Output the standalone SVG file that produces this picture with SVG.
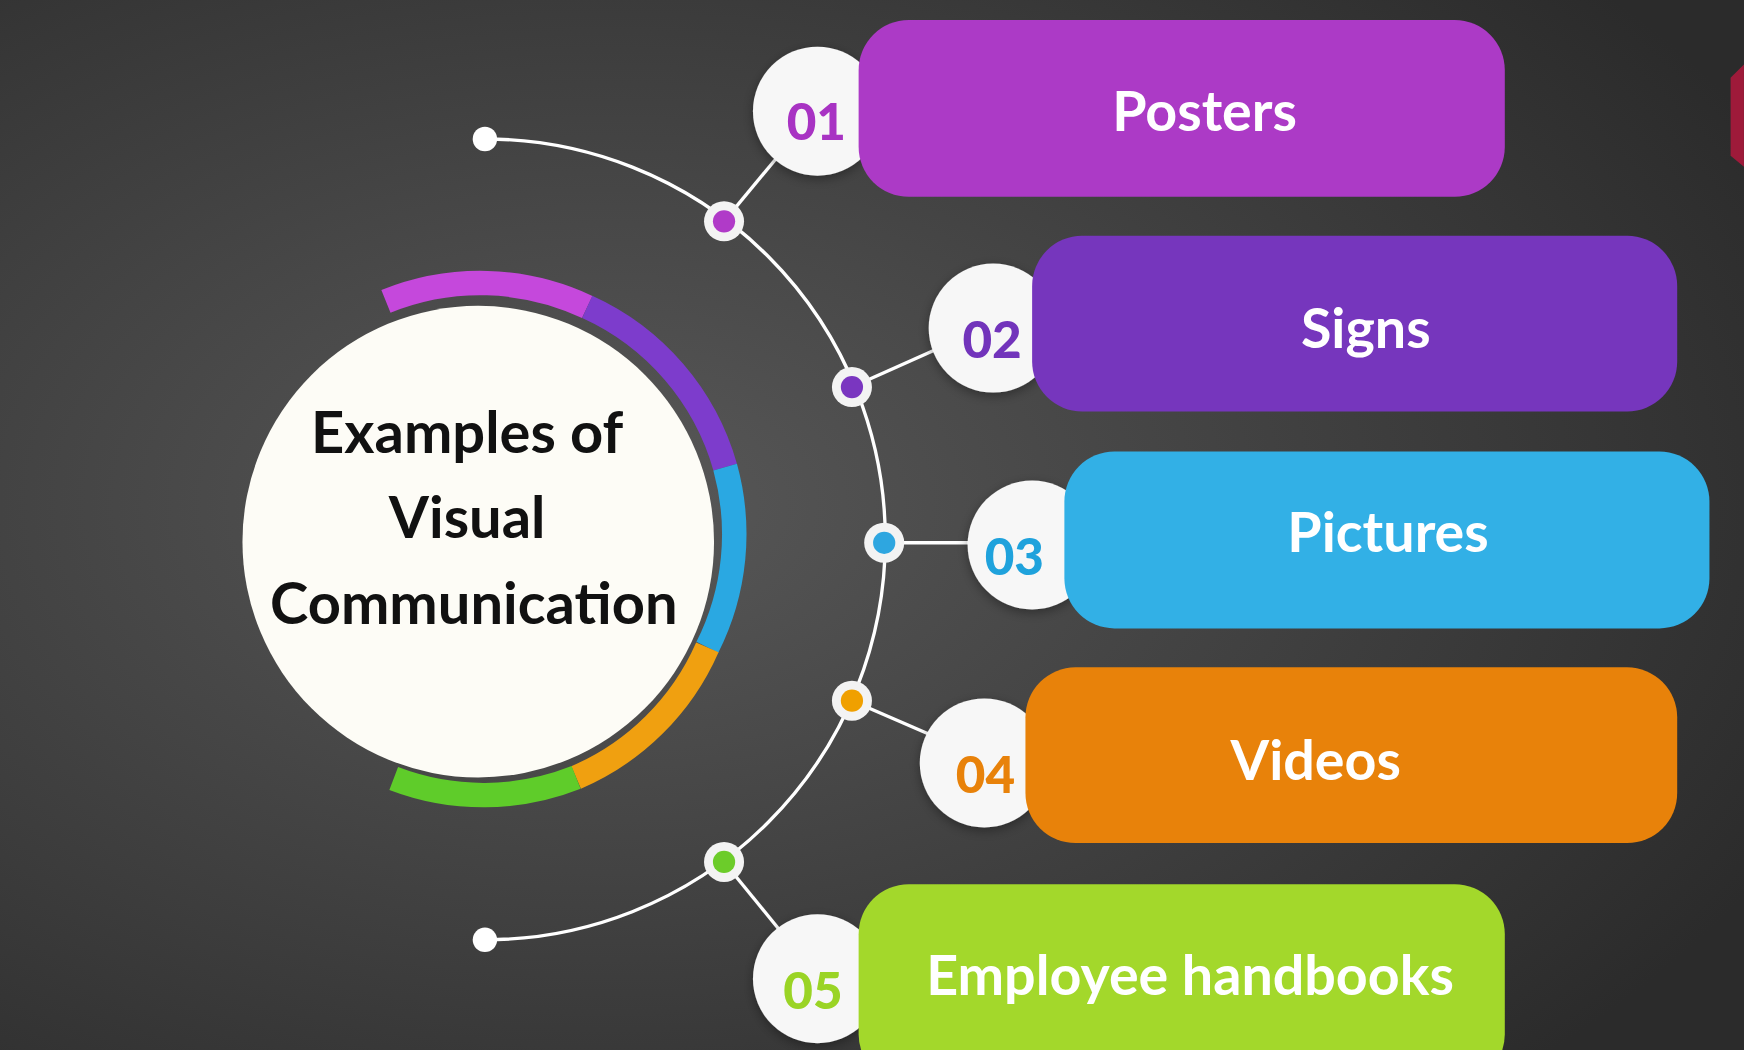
<svg xmlns="http://www.w3.org/2000/svg" width="1744" height="1050" viewBox="0 0 1744 1050">
<defs>
<radialGradient id="bg" cx="0.35" cy="0.48" r="0.75">
<stop offset="0" stop-color="#585858"/><stop offset="1" stop-color="#2b2b2b"/>
</radialGradient>
<filter id="sh" x="-20%" y="-20%" width="140%" height="140%"><feDropShadow dx="0" dy="3" stdDeviation="5" flood-color="#000" flood-opacity="0.35"/></filter>
</defs>
<style>
.lbl{font-family:Lato,"Open Sans",sans-serif;font-weight:bold;font-size:50px;fill:#fff;text-anchor:middle}
.num{font-family:Lato,"Open Sans",sans-serif;font-weight:900;font-size:46px;text-anchor:middle}
.ttl{font-family:Lato,"Open Sans",sans-serif;font-weight:bold;font-size:52px;fill:#111;text-anchor:middle}
.ln{stroke:#fff;stroke-width:3;fill:none}
.nc{fill:#f7f7f7;filter:url(#sh)}
.ring{fill:none;stroke-width:22}
</style>
<rect width="1744" height="1050" fill="url(#bg)"/>
<g transform="scale(1.1122)">
<polygon points="1568,58 1556,70 1556,140 1568,150" fill="#9e1a3a"/>
<g id="connectors">
<path class="ln" d="M436,125 A360,360 0 0 1 436,845"/>
<line class="ln" x1="651" y1="199" x2="700" y2="140"/>
<line class="ln" x1="766" y1="348" x2="840" y2="315"/>
<line class="ln" x1="795" y1="488" x2="875" y2="488"/>
<line class="ln" x1="766" y1="630" x2="835" y2="660"/>
<line class="ln" x1="651" y1="775" x2="700" y2="835"/>
<circle cx="436" cy="125" r="11" fill="#fff"/>
<circle cx="436" cy="845" r="11" fill="#fff"/>
<circle cx="651" cy="199" r="18" fill="#f3f3f3"/><circle cx="651" cy="199" r="10" fill="#b03ac8"/>
<circle cx="766" cy="348" r="18" fill="#f3f3f3"/><circle cx="766" cy="348" r="10" fill="#7a36c0"/>
<circle cx="795" cy="488" r="18" fill="#f3f3f3"/><circle cx="795" cy="488" r="10" fill="#2ea6e0"/>
<circle cx="766" cy="630" r="18" fill="#f3f3f3"/><circle cx="766" cy="630" r="10" fill="#f0a000"/>
<circle cx="651" cy="775" r="18" fill="#f3f3f3"/><circle cx="651" cy="775" r="10" fill="#6ccc2a"/>
</g>
<g id="center">
<path class="ring" stroke="#c548dc" d="M347,271 A226,226 0 0 1 528,276"/>
<path class="ring" stroke="#7d3ccc" d="M528,276 A226,226 0 0 1 652,420"/>
<path class="ring" stroke="#2aa8e2" d="M652,420 A226,226 0 0 1 636,582"/>
<path class="ring" stroke="#f0a010" d="M636,582 A226,226 0 0 1 518,699"/>
<path class="ring" stroke="#5fcc2a" d="M518,699 A226,226 0 0 1 354,700"/>
<circle cx="430" cy="487" r="212" fill="#fdfcf6"/>
<text class="ttl" x="420" y="407">Examples of</text>
<text class="ttl" x="420" y="484">Visual</text>
<text class="ttl" x="426" y="561">Communication</text>
</g>
<g id="n1"><circle class="nc" cx="735" cy="100" r="58"/><rect x="772" y="18" width="581" height="159" rx="45" fill="#ac3ac6"/><text class="num" x="734" y="126" fill="#a833c3">01</text><text class="lbl" x="1083" y="118">Posters</text></g>
<g id="n2"><circle class="nc" cx="893" cy="295" r="58"/><rect x="928" y="212" width="580" height="158" rx="45" fill="#7636bd"/><text class="num" x="892" y="322" fill="#7234bb">02</text><text class="lbl" x="1228" y="313">Signs</text></g>
<g id="n3"><circle class="nc" cx="928" cy="490" r="58"/><rect x="957" y="406" width="580" height="159" rx="45" fill="#32b0e6"/><text class="num" x="912" y="517" fill="#1fa2dc">03</text><text class="lbl" x="1248" y="496">Pictures</text></g>
<g id="n4"><circle class="nc" cx="885" cy="686" r="58"/><rect x="922" y="600" width="586" height="158" rx="45" fill="#e8820a"/><text class="num" x="886" y="713" fill="#e8820a">04</text><text class="lbl" x="1183" y="701">Videos</text></g>
<g id="n5"><circle class="nc" cx="735" cy="880" r="58"/><rect x="772" y="795" width="581" height="180" rx="45" fill="#a3d82b"/><text class="num" x="731" y="907" fill="#9ad425">05</text><text class="lbl" x="1070" y="895">Employee handbooks</text></g>
</g>
</svg>
